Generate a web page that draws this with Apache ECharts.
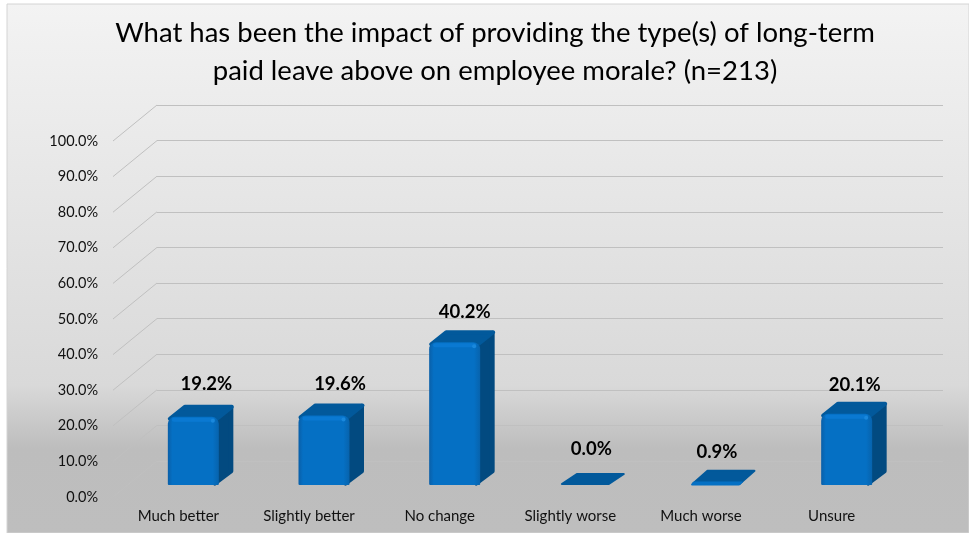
<!DOCTYPE html>
<html>
<head>
<meta charset="utf-8">
<style>
  html, body { margin: 0; padding: 0; background: #fff; }
  #chart { width: 969px; height: 533px; }
</style>
<script src="https://cdn.jsdelivr.net/npm/echarts@6/dist/echarts.min.js"></script>
</head>
<body>
<div id="chart"></div>
<script>
var titleLines = ['What has been the impact of providing the type(s) of long-term', 'paid leave above on employee morale? (n=213)'];
var categories = ['Much better', 'Slightly better', 'No change', 'Slightly worse', 'Much worse', 'Unsure'];
var values = [19.2, 19.6, 40.2, 0.0, 0.9, 20.1];
var ticks = [0, 10, 20, 30, 40, 50, 60, 70, 80, 90, 100];

// excel lets you drag data labels around, these are the nudges [x, y] off the default spot
var labelNudge = [[-1, 0], [2, 2], [-4, 3], [-8, -3], [-13, 3], [-6, 4]];

var depthX = 44, depthY = 36;   // floor, front edge to back wall
var barDX = 15, barDY = 12;     // bar depth
var gridColor = '#c0c0c0';

function bar3d(params, api) {
  var base = api.coord([api.value(0), 0]);
  var top = api.coord([api.value(0), api.value(1)]);
  var w = 51;
  var x0 = base[0] - w / 2, x1 = base[0] + w / 2;
  var yB = base[1], yT = top[1];
  var tall = yB - yT > 6;
  var kids = [];
  // side face first, the top and front sit over its edges
  if (tall) {
    kids.push({
      type: 'polygon',
      shape: { points: [[x1 - 4, yT + 2], [x1 + barDX - 3, yT - barDY + 3], [x1 + barDX - 3, yB - barDY - 2], [x1 - 4, yB - 2]] },
      style: { fill: '#024a80', stroke: '#024a80', lineWidth: 5, lineJoin: 'round' }
    });
  }
  // top face, rounded through the thick round stroke
  var t = tall ? yT + 2 : yB - 1;
  var back = (tall ? yT : yB - 1 - (yB - yT)) - barDY + 2;
  var skew = barDX;
  kids.push({
    type: 'polygon',
    shape: { points: [[x1 + barDX - 2 - skew, t], [x1 + barDX - 2, back], [x0 + barDX + 2, back], [x0 + barDX + 2 - skew, t]] },
    style: { fill: '#02599b', stroke: '#02599b', lineWidth: tall ? 4 : 2, lineJoin: 'round' }
  });
  if (tall) {
    // front face
    kids.push({
      type: 'rect',
      shape: { x: x0, y: yT, width: w, height: yB - yT, r: [7, 7, 1, 1] },
      style: {
        fill: new echarts.graphic.LinearGradient(0, 0, 1, 0, [
          { offset: 0, color: '#0a5fa8' },
          { offset: 0.09, color: '#0570c4' },
          { offset: 0.88, color: '#0570c4' },
          { offset: 1, color: '#0763ad' }
        ])
      }
    });
    // lit bevel along the top edge, with the small highlight at the corner
    kids.push({
      type: 'rect',
      shape: { x: x0 + 4, y: yT + 1, width: w - 8, height: 4, r: 2 },
      style: { fill: '#0a79d2' }
    });
    kids.push({
      type: 'circle',
      shape: { cx: x1 - 6, cy: yT + 4, r: 2 },
      style: { fill: '#1a88dc' }
    });
  } else if (yB - yT > 1) {
    kids.push({
      type: 'polygon',
      shape: { points: [[x0 + 1, yB], [x1 - 2, yB], [x1 + 1, yB - 3], [x0 + 3, yB - 3]] },
      style: { fill: '#0570c4', stroke: '#0570c4', lineWidth: 1, lineJoin: 'round' }
    });
  }
  var nudge = labelNudge[params.dataIndex];
  kids.push({
    type: 'text',
    style: {
      text: values[params.dataIndex].toFixed(1) + '%',
      x: base[0] + barDX - 1 + nudge[0],
      y: yT - barDY - 21 + nudge[1],
      align: 'center',
      verticalAlign: 'middle',
      fill: '#000',
      font: 'bold 18.5px Lato'
    }
  });
  return { type: 'group', children: kids };
}

var chart = echarts.init(document.getElementById('chart'), null, { renderer: 'canvas' });
chart.setOption({
  animation: false,
  backgroundColor: '#fff',
  textStyle: { fontFamily: 'Lato' },
  graphic: [{
    type: 'rect',
    z: -10,
    shape: { x: 7, y: 4, width: 962, height: 529 },
    style: {
      fill: new echarts.graphic.LinearGradient(0, 0, 0, 1, [
        { offset: 0, color: '#f3f3f3' },
        { offset: 0.72, color: '#d9d9d9' },
        { offset: 0.84, color: '#bdbdbd' },
        { offset: 1, color: '#bebebe' }
      ]),
      stroke: '#d4d4d4',
      lineWidth: 1
    }
  }, {
    type: 'text',
    style: {
      x: 495, y: 33,
      text: titleLines[0],
      align: 'center', verticalAlign: 'middle',
      fill: '#000', font: '27.5px Lato'
    }
  }, {
    type: 'text',
    style: {
      x: 495, y: 71,
      text: titleLines[1],
      align: 'center', verticalAlign: 'middle',
      fill: '#000', font: '27.5px Lato'
    }
  }],
  grid: [
    // back wall
    { left: 157, top: 105, width: 786, height: 356 },
    // front edge, carries the axis labels
    { left: 113, top: 141, width: 784, height: 356 },
    // bars stand a bit in from the front edge
    { left: 128, top: 130, width: 784, height: 355 }
  ],
  xAxis: [
    { gridIndex: 0, type: 'value', min: 0, max: 1, show: false },
    {
      gridIndex: 1, type: 'category', data: categories,
      axisLine: { show: false }, axisTick: { show: false },
      axisLabel: { color: '#111', fontSize: 15, margin: 12, interval: 0 }
    },
    { gridIndex: 2, type: 'category', data: categories, show: false }
  ],
  yAxis: [
    {
      gridIndex: 0, type: 'value', min: 0, max: 100, interval: 10,
      axisLine: { show: false }, axisTick: { show: false }, axisLabel: { show: false },
      splitLine: { lineStyle: { color: gridColor, width: 1 } }
    },
    {
      gridIndex: 1, type: 'value', min: 0, max: 100, interval: 10,
      axisLine: { show: false }, axisTick: { show: false }, splitLine: { show: false },
      axisLabel: { color: '#111', fontSize: 14.5, margin: 15, formatter: function (v) { return v.toFixed(1) + '%'; } }
    },
    { gridIndex: 2, type: 'value', min: 0, max: 100, show: false }
  ],
  series: [
    {
      type: 'custom', xAxisIndex: 1, yAxisIndex: 1,
      coordinateSystem: 'cartesian2d',
      clip: false,
      renderItem: function (params, api) {
        var p = api.coord([0, api.value(1)]);
        var left = params.coordSys.x;
        return {
          type: 'line',
          shape: { x1: left, y1: p[1], x2: left + depthX, y2: p[1] - depthY },
          style: { stroke: gridColor, lineWidth: 1 },
          silent: true
        };
      },
      data: ticks.map(function (t) { return [0, t]; }),
      encode: { x: 0, y: 1 }
    },
    {
      type: 'custom', xAxisIndex: 2, yAxisIndex: 2,
      coordinateSystem: 'cartesian2d',
      clip: false,
      renderItem: bar3d,
      data: values.map(function (v, i) { return [i, v]; }),
      encode: { x: 0, y: 1 },
      z: 5
    }
  ]
});
</script>
</body>
</html>
